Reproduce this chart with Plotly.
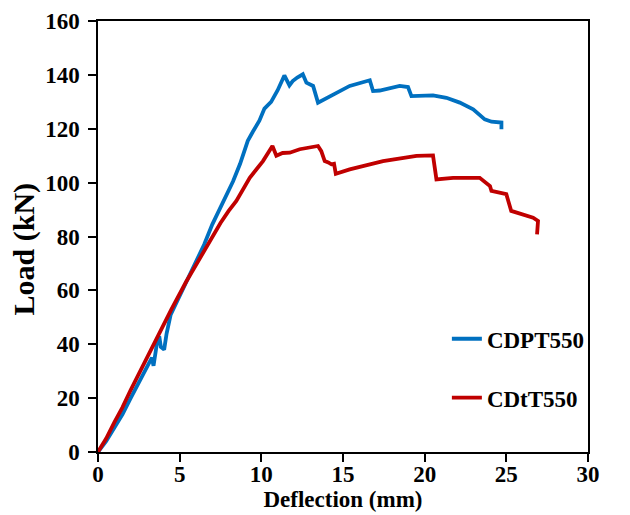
import plotly.graph_objects as go

# CDPT550 (blue) load-deflection curve
cdpt_defl = [0, 0.5, 1.0, 1.5, 2.0, 2.5, 3.0, 3.3, 3.4, 3.5, 3.6, 3.75, 3.85, 4.05, 4.2, 4.45, 4.85,
             5.4, 6.0, 6.5, 7.0, 7.67, 8.27, 8.7, 9.17, 9.47, 9.88, 10.19, 10.6, 11.0, 11.41, 11.72,
             11.92, 12.2, 12.54, 12.76, 13.17, 13.47, 14.39, 15.41, 16.64, 16.84, 17.25, 18.47,
             18.98, 19.19, 20.51, 21.33, 22.15, 22.97, 23.68, 24.09, 24.7, 24.7]
cdpt_load = [0, 4, 9, 14, 20, 26, 31.5, 35, 32, 36, 40, 43, 39, 38, 44, 51, 56,
             63, 70, 77, 84.5, 93, 100.5, 107, 115.5, 118.8, 123, 127.5, 130, 134.3, 139.8, 136.1,
             137.7, 139, 140.2, 137.1, 135.9, 129.7, 132.8, 135.9, 138, 134, 134.2, 135.9,
             135.5, 132.1, 132.4, 131.5, 129.7, 127.2, 123.5, 122.6, 122.3, 119.8]

# CDtT550 (red) load-deflection curve
cdtt_defl = [0, 0.5, 1.0, 1.49, 2.0, 2.5, 3.0, 3.44, 4.0, 4.5, 5.38, 6.0, 6.5, 7.0, 7.5, 8.0, 8.47,
             9.29, 10.1, 10.68, 10.92, 11.3, 11.74, 12.35, 12.96, 13.47, 13.67, 13.88, 14.1, 14.29,
             14.45, 14.56, 15.41, 17.45, 19.5, 20.51, 20.72, 21.74, 23.37, 24.0, 24.09, 25.0, 25.3,
             26.64, 26.94, 26.88]
cdtt_load = [0, 5, 11, 16.5, 23, 29, 35.5, 41, 47.5, 53, 63, 69.5, 75, 80, 85, 89.5, 93.2,
             101.8, 108, 113.6, 110, 111, 111.1, 112.4, 113.2, 113.6, 111.7, 108, 107.5, 106.8,
             107, 103.3, 104.9, 108, 109.9, 110.1, 101.2, 101.8, 101.8, 98.7, 96.9, 95.7, 89.5,
             87, 85.8, 80.8]

x_ticks = [0, 5, 10, 15, 20, 25, 30]
y_ticks = [0, 20, 40, 60, 80, 100, 120, 140, 160]

FONT = "Liberation Serif, Times New Roman, serif"

fig = go.Figure()
fig.add_trace(go.Scatter(x=cdpt_defl, y=cdpt_load, mode="lines", name="CDPT550",
                         legendgroup="a", line=dict(color="#0070C0", width=3.8)))
fig.add_trace(go.Scatter(x=cdtt_defl, y=cdtt_load, mode="lines", name="CDtT550",
                         legendgroup="b", line=dict(color="#C00000", width=3.8)))

axis_common = dict(showgrid=False, zeroline=False, showline=True, linecolor="black", linewidth=1.5,
                   mirror=True, ticks="outside", ticklen=8, tickwidth=1.5, tickcolor="black",
                   automargin=False,
                   tickfont=dict(family=FONT, size=23, color="black", weight="bold"))

fig.update_xaxes(range=[0, 30], tickvals=x_ticks, ticktext=[str(v) for v in x_ticks],
                 ticklabelstandoff=-7,
                 title=dict(text="Deflection (mm)", standoff=0,
                            font=dict(family=FONT, size=23, color="black", weight="bold")),
                 **axis_common)
fig.update_yaxes(range=[0, 160], tickvals=y_ticks, ticktext=[str(v) for v in y_ticks],
                 ticklabelstandoff=4,
                 **axis_common)

fig.update_layout(
    width=622, height=507,
    margin=dict(l=90, r=42, t=13, b=63),
    paper_bgcolor="white", plot_bgcolor="white",
    font=dict(family=FONT, color="black"),
    legend=dict(x=0.712, y=0.3125, xanchor="left", yanchor="top", bgcolor="rgba(0,0,0,0)",
                font=dict(family=FONT, size=23, color="black", weight="bold"),
                tracegroupgap=26),
    showlegend=True,
    annotations=[dict(text="Load (kN)", textangle=-90, xref="paper", yref="paper",
                      x=-0.151, y=0.47, xanchor="center", yanchor="middle", showarrow=False,
                      font=dict(family=FONT, size=30, color="black", weight="bold"))],
)

fig.write_html("out.html")
